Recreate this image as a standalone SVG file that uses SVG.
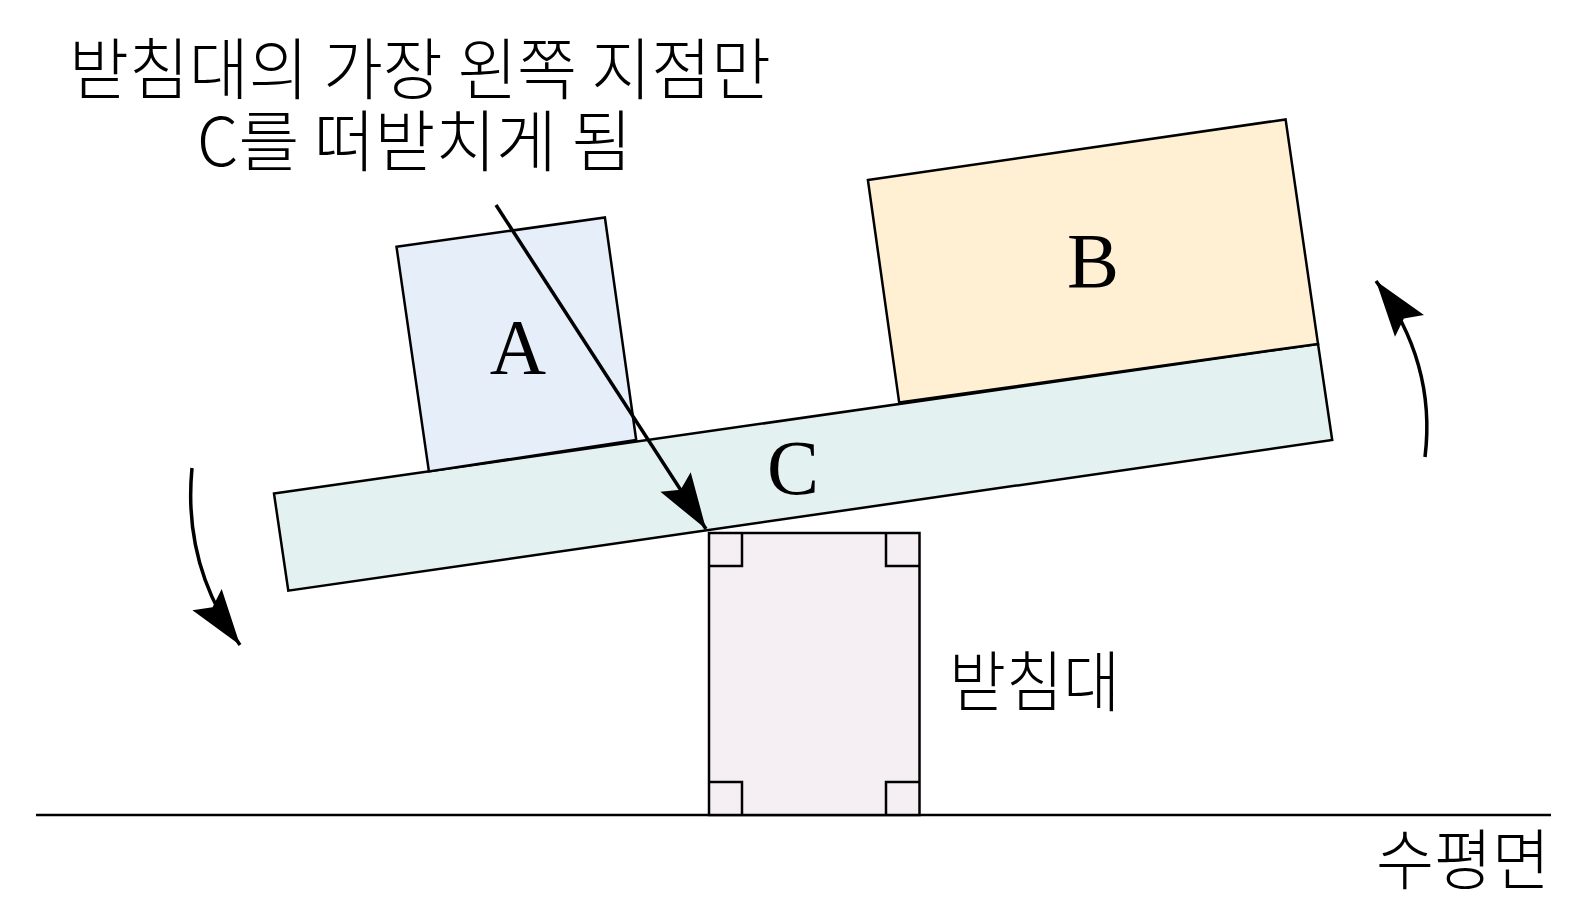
<svg xmlns="http://www.w3.org/2000/svg" width="1586" height="911" viewBox="0 0 1586 911">
<style>
.sh{stroke:#000;stroke-width:2.5;stroke-linejoin:miter}
.lbl{font-family:"Liberation Serif",serif;fill:#000}
.kr{font-family:"Noto Sans CJK KR","Noto Sans",sans-serif;font-weight:300;fill:#000}
.ln{fill:none;stroke:#000;stroke-width:3.5}
</style>
<defs>
<marker id="ah" markerUnits="userSpaceOnUse" markerWidth="70" markerHeight="70" viewBox="-55 -20 60 40" refX="0" refY="0" orient="auto">
<path d="M0,0 L-48,-15.5 L-40,0 L-48,15.5 Z" fill="#000"/>
</marker>
</defs>
<rect width="1586" height="911" fill="#fff"/>
<g id="ground">
<line x1="36" y1="815" x2="1551" y2="815" stroke="#000" stroke-width="2.5"/>
</g>
<g id="support">
<rect x="709" y="533" width="210.5" height="282" fill="#f5eff4" class="sh"/>
<path d="M709,566 H742 V533 M886,533 V566 H919.5 M709,782 H742 V815 M886,815 V782 H919.5" fill="none" class="sh"/>
</g>
<g id="plank">
<polygon points="274,493.6 1318,343.9 1332.2,440 288.3,590.7" fill="#e3f2f0" class="sh"/>
<text x="793" y="494" class="lbl" font-size="78" text-anchor="middle">C</text>
</g>
<g id="boxA">
<polygon points="396.5,246.8 604.9,217.5 636.2,440 428.9,471.4" fill="#e6eefa" class="sh"/>
<text x="518" y="373" class="lbl" font-size="78" text-anchor="middle">A</text>
</g>
<g id="boxB">
<polygon points="867.9,180 1285.6,119.4 1318,343.9 899.2,402.6" fill="#fff0d4" class="sh"/>
<text x="1093" y="287" class="lbl" font-size="78" text-anchor="middle">B</text>
</g>
<g id="connectors">
<line x1="496" y1="205" x2="706" y2="529" class="ln" marker-end="url(#ah)"/>
<path d="M192,468 C186,530 200,590 240,645" class="ln" marker-end="url(#ah)"/>
<path d="M1425,457 C1432,400 1420,340 1376,281" class="ln" marker-end="url(#ah)"/>
</g>
<g id="title">
<text x="69" y="94" class="kr" font-size="67" textLength="702" lengthAdjust="spacingAndGlyphs">받침대의 가장 왼쪽 지점만</text>
<text x="197" y="166" class="kr" font-size="67" textLength="435" lengthAdjust="spacingAndGlyphs">C를 떠받치게 됨</text>
</g>
<g id="label-support">
<text x="949" y="706" class="kr" font-size="66" textLength="171" lengthAdjust="spacingAndGlyphs">받침대</text>
</g>
<g id="label-ground">
<text x="1376" y="884" class="kr" font-size="66" textLength="174" lengthAdjust="spacingAndGlyphs">수평면</text>
</g>
</svg>
